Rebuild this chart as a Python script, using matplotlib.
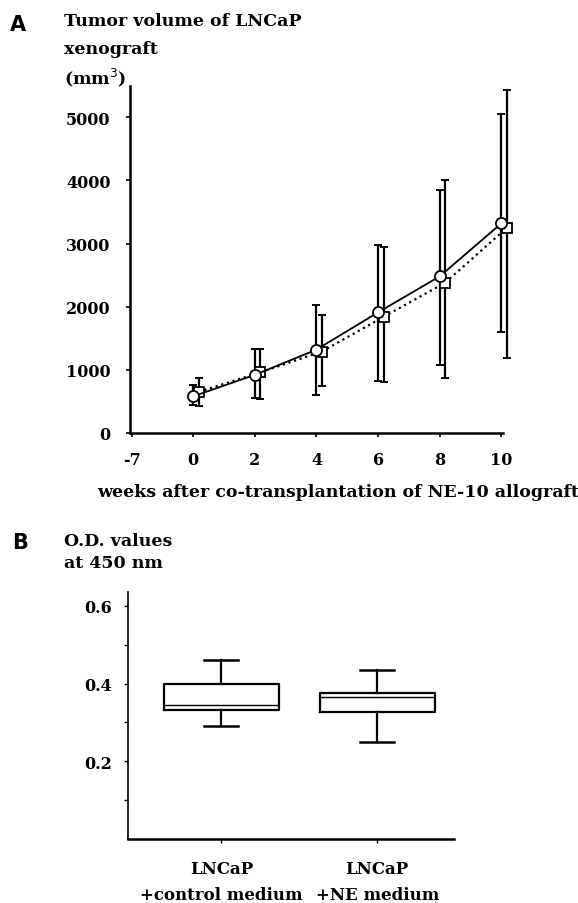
import numpy as np
import matplotlib.pyplot as plt

# -------------------------------------------------
# DATA
# -------------------------------------------------
weeks = [0, 2, 4, 6, 8, 10]
week_pos = [0, 2, 4, 6, 8, 10]

# solid line, open circles
vol_a = [580, 920, 1320, 1910, 2480, 3320]
vol_a_lo = [440, 560, 600, 820, 1080, 1600]
vol_a_hi = [760, 1330, 2020, 2970, 3850, 5050]

# dotted line, open squares
vol_b = [650, 960, 1290, 1840, 2380, 3250]
vol_b_lo = [430, 540, 750, 800, 870, 1190]
vol_b_hi = [870, 1330, 1870, 2950, 4000, 5430]

x_ticks_a = [-2, 0, 2, 4, 6, 8, 10]
x_labels_a = ["-7", "0", "2", "4", "6", "8", "10"]
y_ticks_a = [0, 1000, 2000, 3000, 4000, 5000]

groups = ["LNCaP\n+control medium", "LNCaP\n+NE medium"]
box_q1 = [0.331, 0.326]
box_med = [0.345, 0.365]
box_q3 = [0.400, 0.375]
box_lo = [0.290, 0.250]
box_hi = [0.460, 0.434]

serif = "DejaVu Serif"
plt.rcParams['font.family'] = serif

fig = plt.figure(figsize=(5.78, 9.04), dpi=100)
W, H = 578.0, 904.0

# -------------------------------------------------
# PANEL A
# -------------------------------------------------
ax = fig.add_axes([0.225, 0.520, 0.645, 0.384])

xa = np.array(week_pos, dtype=float)
xb = xa + 0.18

va = np.array(vol_a)
vb = np.array(vol_b)
ea = ax.errorbar(xa, va, yerr=[va - np.array(vol_a_lo), np.array(vol_a_hi) - va],
                 fmt='none', ecolor='black', elinewidth=1.6, capsize=3, capthick=1.4, zorder=2)
eb = ax.errorbar(xb, vb, yerr=[vb - np.array(vol_b_lo), np.array(vol_b_hi) - vb],
                 fmt='none', ecolor='black', elinewidth=1.6, capsize=3, capthick=1.4, zorder=2)
for cont in (ea, eb):
    for art in cont.lines[1] + cont.lines[2]:
        art.set_clip_on(False)
ax.plot(xb, vb, linestyle=':', color='black', lw=1.6, marker='s', ms=7.5,
        mfc='white', mec='black', mew=1.3, zorder=3, clip_on=False)
ax.plot(xa, va, linestyle='-', color='black', lw=1.3, marker='o', ms=8,
        mfc='white', mec='black', mew=1.3, zorder=4, clip_on=False)

ax.set_xlim(-2.05, 10.05)
ax.set_ylim(0, 5500)
ax.spines['top'].set_visible(False)
ax.spines['right'].set_visible(False)
ax.spines['left'].set_linewidth(1.8)
ax.spines['bottom'].set_linewidth(1.8)
ax.set_xticks(x_ticks_a)
ax.set_xticklabels(x_labels_a)
ax.set_yticks(y_ticks_a)
ax.tick_params(length=3, width=1.2, labelsize=11.5)
ax.tick_params(axis='y', pad=11)
ax.tick_params(axis='x', pad=10)
for lab in ax.get_xticklabels() + ax.get_yticklabels():
    lab.set_fontweight('bold')
ax.set_xlabel("weeks after co-transplantation of NE-10 allograft",
              fontsize=12.5, fontweight='bold')
ax.xaxis.set_label_coords(0.557, -0.145)

fig.text(10 / W, 1 - 25 / H, "A", fontsize=15, fontweight='bold', family='DejaVu Sans',
         ha='left', va='center')
fig.text(64 / W, 1 - 22 / H, "Tumor volume of LNCaP", fontsize=12.5,
         fontweight='bold', ha='left', va='center')
fig.text(64 / W, 1 - 49 / H, "xenograft", fontsize=12.5,
         fontweight='bold', ha='left', va='center')
fig.text(64 / W, 1 - 78 / H, "(mm$^3$)", fontsize=12.5,
         fontweight='bold', ha='left', va='center')

# -------------------------------------------------
# PANEL B
# -------------------------------------------------
bx = fig.add_axes([0.221, 0.071, 0.564, 0.273])

stats = []
for i in range(len(groups)):
    stats.append(dict(med=box_med[i], q1=box_q1[i], q3=box_q3[i],
                      whislo=box_lo[i], whishi=box_hi[i], fliers=[]))
bx.bxp(stats, positions=[1, 2], widths=0.74, showfliers=False,
       boxprops=dict(color='black', lw=1.6),
       medianprops=dict(color='black', lw=1.0),
       whiskerprops=dict(color='black', lw=1.6),
       capprops=dict(color='black', lw=1.8),
       capwidths=0.22)

bx.set_xlim(0.4, 2.49)
bx.set_ylim(0, 0.636)
bx.spines['top'].set_visible(False)
bx.spines['right'].set_visible(False)
bx.spines['left'].set_linewidth(1.2)
bx.spines['bottom'].set_linewidth(1.8)
bx.set_yticks([0.1, 0.2, 0.3, 0.4, 0.5, 0.6])
bx.set_yticklabels(["", "0.2", "", "0.4", "", "0.6"])
bx.set_xticks([1, 2])
bx.set_xticklabels(groups, linespacing=1.75)
bx.tick_params(length=3, width=1.0, labelsize=12, pad=8)
bx.tick_params(axis='y', labelsize=11.5)
bx.tick_params(axis='x', pad=12)
for lab in bx.get_xticklabels() + bx.get_yticklabels():
    lab.set_fontweight('bold')

fig.text(12 / W, 1 - 543 / H, "B", fontsize=15, fontweight='bold', family='DejaVu Sans',
         ha='left', va='center')
fig.text(64 / W, 1 - 542 / H, "O.D. values", fontsize=12.5,
         fontweight='bold', ha='left', va='center')
fig.text(64 / W, 1 - 563 / H, "at 450 nm", fontsize=12.5,
         fontweight='bold', ha='left', va='center')

fig.savefig("out.png", dpi=100)
